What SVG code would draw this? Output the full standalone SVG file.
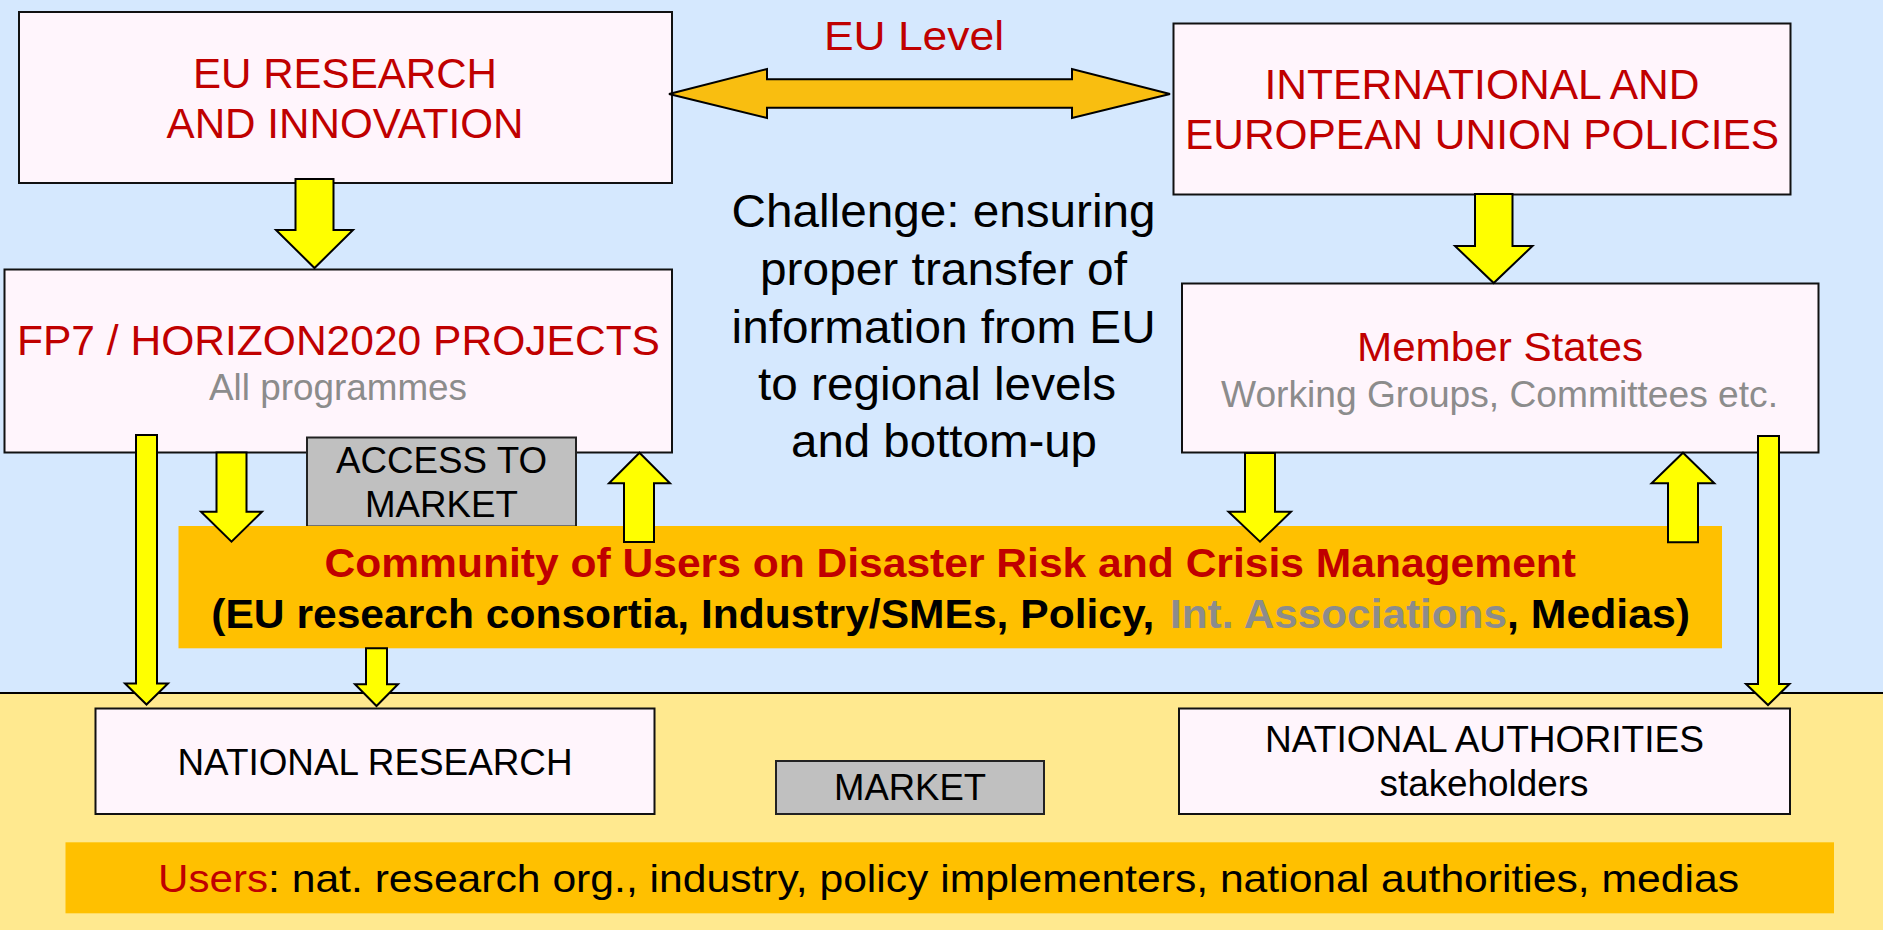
<svg xmlns="http://www.w3.org/2000/svg" width="1883" height="930" viewBox="0 0 1883 930">
<style>
text{font-family:"Liberation Sans",Arial,sans-serif;}
.box{fill:#FFF5FC;stroke:#111;stroke-width:2;}
.grey{fill:#C0C0C0;stroke:#222;stroke-width:2;}
.band{fill:#FFC000;}
.red{fill:#C00000;}
.gry{fill:#8C8C8C;}
.blk{fill:#000;}
.arr{fill:#FFFF00;stroke:#000;stroke-width:2;stroke-linejoin:miter;}
.dbl{fill:#F9BE10;stroke:#000;stroke-width:2;}
</style>
<rect x="0" y="0" width="1883" height="693" fill="#D5E8FE"/>
<rect x="0" y="693" width="1883" height="237" fill="#FFE98F"/>
<line x1="0" y1="693" x2="1883" y2="693" stroke="#000" stroke-width="2"/>

<g id="eu-research">
<rect class="box" x="19" y="12" width="653" height="171"/>
<text class="red" x="345" y="88" font-size="42" text-anchor="middle" textLength="304" lengthAdjust="spacingAndGlyphs">EU RESEARCH</text>
<text class="red" x="345" y="138" font-size="42" text-anchor="middle" textLength="357" lengthAdjust="spacingAndGlyphs">AND INNOVATION</text>
</g>

<g id="intl-policies">
<rect class="box" x="1173.5" y="23.5" width="617" height="171"/>
<text class="red" x="1482" y="99" font-size="42" text-anchor="middle" textLength="435" lengthAdjust="spacingAndGlyphs">INTERNATIONAL AND</text>
<text class="red" x="1482" y="149" font-size="42" text-anchor="middle" textLength="594" lengthAdjust="spacingAndGlyphs">EUROPEAN UNION POLICIES</text>
</g>

<g id="fp7">
<rect class="box" x="4.5" y="269.5" width="667.5" height="183"/>
<text class="red" x="338.5" y="355" font-size="42" text-anchor="middle" textLength="643" lengthAdjust="spacingAndGlyphs">FP7 / HORIZON2020 PROJECTS</text>
<text class="gry" x="338" y="400" font-size="37" text-anchor="middle" textLength="258" lengthAdjust="spacingAndGlyphs">All programmes</text>
</g>

<g id="member-states">
<rect class="box" x="1182" y="283.5" width="636.5" height="169"/>
<text class="red" x="1500" y="361" font-size="40" text-anchor="middle" textLength="286" lengthAdjust="spacingAndGlyphs">Member States</text>
<text class="gry" x="1499.5" y="406.5" font-size="36" text-anchor="middle" textLength="557" lengthAdjust="spacingAndGlyphs">Working Groups, Committees etc.</text>
</g>

<g id="access-to-market">
<rect class="grey" x="307" y="437.5" width="269" height="89"/>
<text class="blk" x="441.5" y="472.7" font-size="36" text-anchor="middle" textLength="211" lengthAdjust="spacingAndGlyphs">ACCESS TO</text>
<text class="blk" x="441.5" y="517.3" font-size="36" text-anchor="middle" textLength="153" lengthAdjust="spacingAndGlyphs">MARKET</text>
</g>

<g id="community">
<rect class="band" x="178.5" y="526" width="1543.5" height="122.3"/>
<text class="red" x="324.5" y="576.7" font-size="40" font-weight="bold" textLength="1251.5" lengthAdjust="spacingAndGlyphs">Community of Users on Disaster Risk and Crisis Management</text>
<text class="blk" x="211.3" y="628.3" font-size="40" font-weight="bold" textLength="943" lengthAdjust="spacingAndGlyphs">(EU research consortia, Industry/SMEs, Policy,</text>
<text class="gry" x="1170" y="628.3" font-size="40" font-weight="bold" textLength="337" lengthAdjust="spacingAndGlyphs">Int. Associations</text>
<text class="blk" x="1507" y="628.3" font-size="40" font-weight="bold" textLength="183" lengthAdjust="spacingAndGlyphs">, Medias)</text>
</g>

<g id="national-research">
<rect class="box" x="95.5" y="708.5" width="559" height="105.5"/>
<text class="blk" x="375" y="775" font-size="36" text-anchor="middle" textLength="395" lengthAdjust="spacingAndGlyphs">NATIONAL RESEARCH</text>
</g>

<g id="market">
<rect class="grey" x="776" y="761" width="268" height="53"/>
<text class="blk" x="910" y="800" font-size="36" text-anchor="middle" textLength="152" lengthAdjust="spacingAndGlyphs">MARKET</text>
</g>

<g id="national-authorities">
<rect class="box" x="1179" y="708.5" width="611" height="105.5"/>
<text class="blk" x="1484.5" y="751.7" font-size="36" text-anchor="middle" textLength="439" lengthAdjust="spacingAndGlyphs">NATIONAL AUTHORITIES</text>
<text class="blk" x="1484" y="796" font-size="36" text-anchor="middle" textLength="209" lengthAdjust="spacingAndGlyphs">stakeholders</text>
</g>

<g id="users">
<rect class="band" x="65.5" y="842.3" width="1768.5" height="71"/>
<text class="red" x="158" y="891.7" font-size="39" textLength="110" lengthAdjust="spacingAndGlyphs">Users</text>
<text class="blk" x="268" y="891.7" font-size="39" textLength="1471" lengthAdjust="spacingAndGlyphs">: nat. research org., industry, policy implementers, national authorities, medias</text>
</g>

<g id="eu-level-label">
<text class="red" x="914" y="50" font-size="40" font-family="'DejaVu Sans',sans-serif" text-anchor="middle" textLength="180" lengthAdjust="spacingAndGlyphs">EU Level</text>
</g>

<g id="challenge">
<text class="blk" x="943.6" y="227.3" font-size="47" text-anchor="middle" textLength="424" lengthAdjust="spacingAndGlyphs">Challenge: ensuring</text>
<text class="blk" x="943.5" y="285" font-size="47" text-anchor="middle" textLength="367" lengthAdjust="spacingAndGlyphs">proper transfer of</text>
<text class="blk" x="943.6" y="342.7" font-size="47" text-anchor="middle" textLength="424" lengthAdjust="spacingAndGlyphs">information from EU</text>
<text class="blk" x="937" y="400" font-size="47" text-anchor="middle" textLength="358" lengthAdjust="spacingAndGlyphs">to regional levels</text>
<text class="blk" x="944" y="457.3" font-size="47" text-anchor="middle" textLength="306" lengthAdjust="spacingAndGlyphs">and bottom-up</text>
</g>

<g id="connectors">
<polygon class="dbl" points="669,94 767,69 767,79.3 1072,79.3 1072,69 1170,94 1072,118 1072,107.7 767,107.7 767,118"/>
<polygon class="arr" points="295.5,179 333.5,179 333.5,230 353,230 314.5,268 276,230 295.5,230"/>
<polygon class="arr" points="1475,194 1512.5,194 1512.5,246 1532.5,246 1493.7,283 1455,246 1475,246"/>
<polygon class="arr" points="136,435 157,435 157,683.5 168,683.5 146.5,704.5 125,683.5 136,683.5"/>
<polygon class="arr" points="216.5,452.5 246.5,452.5 246.5,511.7 262,511.7 231.5,541.7 201,511.7 216.5,511.7"/>
<polygon class="arr" points="639.5,452.7 670,483.3 654,483.3 654,542 624,542 624,483.3 609,483.3"/>
<polygon class="arr" points="366,648.3 387,648.3 387,684.3 398,684.3 376.5,706 355,684.3 366,684.3"/>
<polygon class="arr" points="1245,453 1275,453 1275,511.7 1291,511.7 1260,541.7 1228.5,511.7 1245,511.7"/>
<polygon class="arr" points="1683,452.7 1714.3,483.3 1698,483.3 1698,542.3 1668,542.3 1668,483.3 1651.6,483.3"/>
<polygon class="arr" points="1758,436 1779,436 1779,684 1789.5,684 1768,705 1746,684 1758,684"/>
</g>
</svg>
